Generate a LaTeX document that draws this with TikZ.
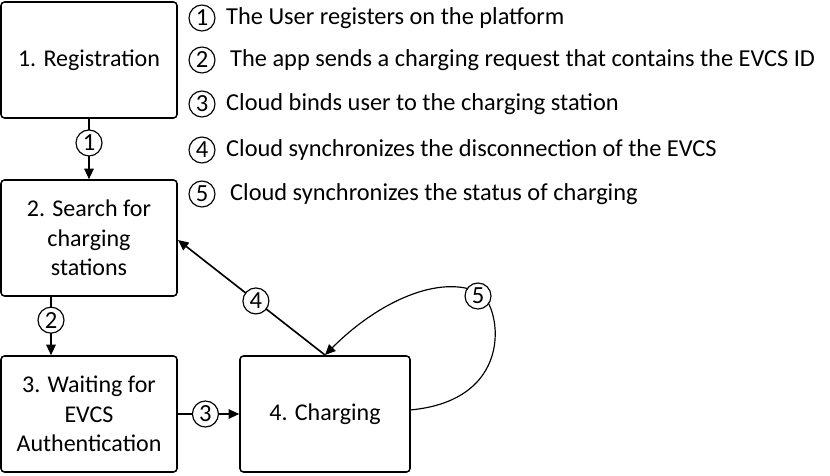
\documentclass[tikz,border=0pt]{standalone}
\usepackage{fontspec}
\setmainfont{Carlito}
\usetikzlibrary{arrows.meta}
\begin{document}
\begin{tikzpicture}[x=0.03cm,y=-0.03cm,
  box/.style={draw,line width=1.3pt,rounded corners=3pt,align=center,font=\fontsize{20.5}{25}\selectfont,inner sep=0pt},
  num/.style={draw,circle,line width=1pt,minimum size=0.78cm,inner sep=0pt,fill=white,font=\fontsize{21}{21}\selectfont},
  arr/.style={line width=1.4pt,-{Triangle[length=9pt,width=8pt]}},
  leg/.style={anchor=west,font=\fontsize{20.8}{21}\selectfont,inner sep=0pt}]
\useasboundingbox (0,0) rectangle (830,476);
\node[box,minimum width=5.28cm,minimum height=3.48cm] (b1) at (89,60) {1. Registration};
\node[box,minimum width=5.28cm,minimum height=3.48cm] (b2) at (89,238) {2. Search for\\charging\\stations};
\node[box,minimum width=5.28cm,minimum height=3.48cm] (b3) at (89,414) {3. Waiting for\\EVCS\\Authentication};
\node[box,minimum width=5.1cm,minimum height=3.48cm] (b4) at (325,414) {4. Charging};
\coordinate (t4) at (325,355);
\coordinate (l2) at (178,240);
\draw[arr] (b1.south) -- (b2.north) node[num,pos=0.4] {1};
\draw[arr] (b2.south-|51,0) -- (b3.north-|51,0) node[num,pos=0.4] {2};
\draw[arr] (b3.east) -- (b4.west) node[num,pos=0.45] {3};
\draw[arr] (t4) -- (l2) node[num,pos=0.47] {4};
\draw[arr,line width=1pt] (410,410) .. controls (520,400) and (500,300) .. (478,292)
  .. controls (440,275) and (380,300) .. (t4);
\node[num] (n5) at (478,296) {5};
\foreach \i/\y/\t/\d in {1/18/The User registers on the platform/226,
  2/60/The app sends a charging request that contains the EVCS ID/230,
  3/104/Cloud binds user to the charging station/226,
  4/150/Cloud synchronizes the disconnection of the EVCS/226,
  5/194/Cloud synchronizes the status of charging/230}{
  \node[num] (c\i) at (202,\y) {\i};
  \node[leg] (t\i) at (\d,\y) {\t};}
\end{tikzpicture}
\end{document}
